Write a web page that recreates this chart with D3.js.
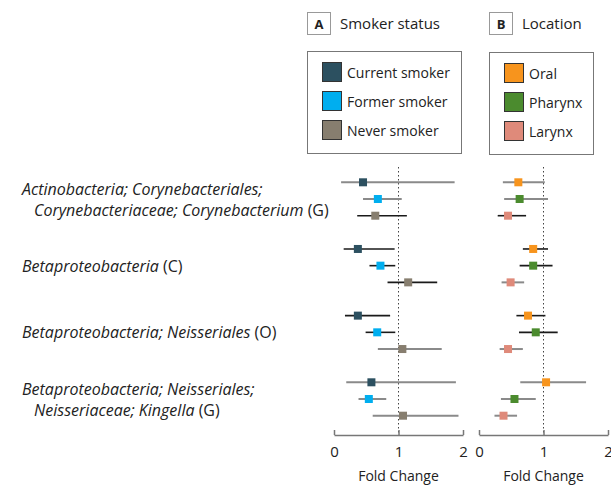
<!DOCTYPE html>
<html>
<head>
<meta charset="utf-8">
<script src="https://cdn.jsdelivr.net/npm/d3@7"></script>
<style>
  body { margin: 0; background: #fff; }
  svg text { font-family: "Open Sans", "Noto Sans", sans-serif; fill: #222; }
</style>
</head>
<body>
<svg id="chart" width="611" height="487"></svg>
<script>
// taxa (row groups)
var taxa = [
    ["Actinobacteria; Corynebacteriales;", "Corynebacteriaceae; Corynebacterium (G)"],
    ["Betaproteobacteria (C)"],
    ["Betaproteobacteria; Neisseriales (O)"],
    ["Betaproteobacteria; Neisseriales;", "Neisseriaceae; Kingella (G)"]
];
var ticks = [0, 1, 2];

// panel A: smoker status
var smokerSeries = ["Current smoker", "Former smoker", "Never smoker"];
var smokerEst  = [[0.45, 0.68, 0.64], [0.37, 0.72, 1.15], [0.37, 0.67, 1.06], [0.58, 0.54, 1.07]];
var smokerLow  = [[0.11, 0.45, 0.36], [0.15, 0.55, 0.83], [0.17, 0.49, 0.68], [0.19, 0.38, 0.60]];
var smokerHigh = [[1.87, 1.05, 1.13], [0.94, 0.95, 1.60], [0.87, 0.95, 1.67], [1.89, 0.81, 1.93]];

// panel B: tumour location
var siteSeries = ["Oral", "Pharynx", "Larynx"];
var siteEst  = [[0.61, 0.63, 0.45], [0.84, 0.84, 0.49], [0.76, 0.88, 0.45], [1.04, 0.55, 0.38]];
var siteLow  = [[0.37, 0.39, 0.29], [0.68, 0.63, 0.35], [0.58, 0.62, 0.32], [0.64, 0.34, 0.24]];
var siteHigh = [[1.02, 1.07, 0.73], [1.07, 1.14, 0.70], [1.03, 1.22, 0.68], [1.66, 0.88, 0.59]];

// styling only: which CI whiskers are drawn in grey
var greyA = [[1, 1, 0], [0, 0, 0], [0, 0, 1], [1, 1, 1]];
var greyB = [[1, 1, 0], [0, 0, 1], [0, 0, 1], [1, 1, 1]];

var smokerColors = ["#2c5060", "#00aeef", "#877e6f"];
var siteColors = ["#f7941d", "#4b8b2e", "#df8a7a"];

var svg = d3.select("#chart");

var yGroup = d3.scaleLinear().domain([0, 3]).range([199, 399]);
var rowGap = 16.7;

function rowY(g, i) { return yGroup(g) + (i - 1) * rowGap; }

// left labels
taxa.forEach(function(lines, g) {
    var t = svg.append("text")
        .attr("x", 22)
        .attr("y", yGroup(g) - (lines.length - 1) * 10.5)
        .attr("dominant-baseline", "central")
        .style("font-size", "16px");
    lines.forEach(function(line, k) {
        // italic taxon names, rank letter upright
        var m = line.match(/^(.*?)( \([A-Z]\))?$/);
        t.append("tspan")
            .attr("x", k === 0 ? 22 : 34)
            .attr("dy", k === 0 ? 0 : 21)
            .style("font-style", "italic")
            .text(m[1]);
        if (m[2]) t.append("tspan").style("font-style", "normal").text(m[2]);
    });
});

function drawPanel(opt) {
    var x = d3.scaleLinear().domain([0, 2]).range(opt.range);
    var g = svg.append("g");

    // reference line at 1
    g.append("line")
        .attr("x1", x(1)).attr("x2", x(1))
        .attr("y1", 167).attr("y2", 435)
        .attr("stroke", "#444")
        .attr("stroke-width", 1)
        .attr("stroke-dasharray", "1.5,2.5");

    var rows = [];
    opt.est.forEach(function(r, gi) {
        r.forEach(function(v, i) {
            rows.push({ g: gi, i: i, est: v, lo: opt.low[gi][i], hi: opt.high[gi][i], grey: opt.grey[gi][i] });
        });
    });

    g.selectAll("line.ci").data(rows).enter().append("line")
        .attr("class", "ci")
        .attr("x1", function(d) { return x(d.lo); })
        .attr("x2", function(d) { return x(d.hi); })
        .attr("y1", function(d) { return rowY(d.g, d.i); })
        .attr("y2", function(d) { return rowY(d.g, d.i); })
        .attr("stroke", function(d) { return d.grey ? "#8a8a8a" : "#1a1a1a"; })
        .attr("stroke-width", function(d) { return d.grey ? 2 : 1.6; });

    var s = 8;
    g.selectAll("rect.pt").data(rows).enter().append("rect")
        .attr("class", "pt")
        .attr("x", function(d) { return x(d.est) - s / 2; })
        .attr("y", function(d) { return rowY(d.g, d.i) - s / 2; })
        .attr("width", s).attr("height", s)
        .attr("fill", function(d) { return opt.colors[d.i]; });

    // axis
    var axis = d3.axisBottom(x).tickValues(ticks).tickFormat(d3.format("d"))
        .tickSizeInner(-5).tickSizeOuter(0).tickPadding(11);
    var ag = g.append("g").attr("transform", "translate(0,435)").call(axis);
    ag.select(".domain").attr("stroke", "#777").attr("stroke-width", 1.5);
    ag.selectAll(".tick line").attr("stroke", "#777").attr("stroke-width", 1.5);
    ag.selectAll(".tick text")
        .style("font-size", "15px")
        .style("font-family", "'Open Sans', sans-serif")
        .attr("fill", "#222");

    g.append("text")
        .attr("x", (opt.range[0] + opt.range[1]) / 2)
        .attr("y", 475)
        .attr("text-anchor", "middle")
        .attr("dominant-baseline", "central")
        .style("font-size", "14px")
        .text("Fold Change");

    // panel letter + title
    g.append("rect")
        .attr("x", opt.hx + 0.5).attr("y", 12.5)
        .attr("width", 23).attr("height", 22)
        .attr("fill", "#fff").attr("stroke", "#999");
    g.append("text")
        .attr("x", opt.hx + 12).attr("y", 24)
        .attr("text-anchor", "middle")
        .attr("dominant-baseline", "central")
        .style("font-size", "13px").style("font-weight", "bold")
        .text(opt.letter);
    g.append("text")
        .attr("x", opt.hx + 33).attr("y", 23)
        .attr("dominant-baseline", "central")
        .style("font-size", "15px")
        .text(opt.title);

    // legend
    g.append("rect")
        .attr("x", opt.hx + 0.5).attr("y", opt.ly + 0.5)
        .attr("width", opt.lw).attr("height", 102)
        .attr("fill", "#fff").attr("stroke", "#777");
    opt.series.forEach(function(name, i) {
        var cy = opt.ly + 21 + i * 29;
        g.append("rect")
            .attr("x", opt.hx + 15.5).attr("y", cy - 9.5)
            .attr("width", 19).attr("height", 19)
            .attr("fill", opt.colors[i]).attr("stroke", "#333");
        g.append("text")
            .attr("x", opt.hx + 40).attr("y", cy)
            .attr("dominant-baseline", "central")
            .style("font-size", "14px")
            .text(name);
    });
}

drawPanel({
    range: [334, 463], est: smokerEst, low: smokerLow, high: smokerHigh, grey: greyA,
    colors: smokerColors, series: smokerSeries, letter: "A", title: "Smoker status",
    hx: 307, ly: 51, lw: 154
});
drawPanel({
    range: [479, 608], est: siteEst, low: siteLow, high: siteHigh, grey: greyB,
    colors: siteColors, series: siteSeries, letter: "B", title: "Location",
    hx: 489, ly: 52, lw: 104
});
</script>
</body>
</html>
